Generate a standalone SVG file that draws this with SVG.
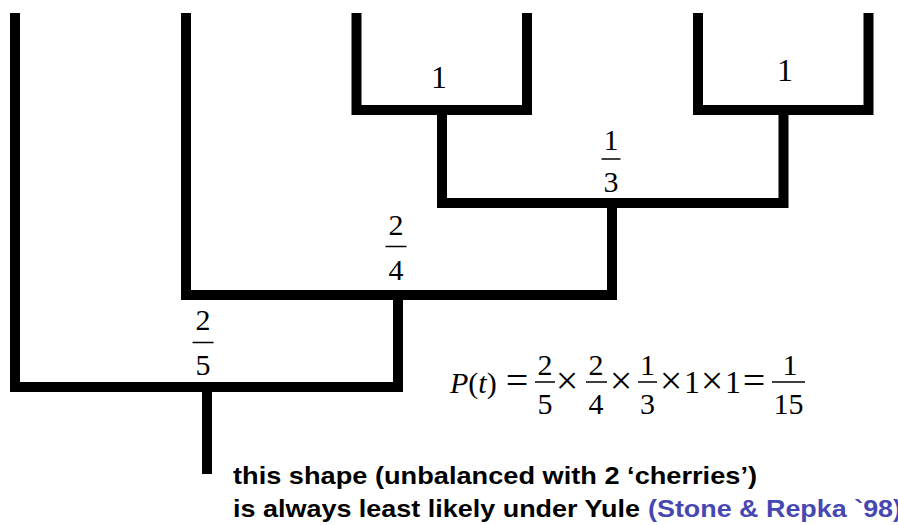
<svg xmlns="http://www.w3.org/2000/svg" width="898" height="525" viewBox="0 0 898 525">
<style>
.br{fill:none;stroke:#000;stroke-width:10;stroke-linecap:butt;stroke-linejoin:miter}
.bar{stroke:#000;stroke-width:1.5}
.num{font-family:"Liberation Serif","Times New Roman",serif;font-size:30px;fill:#000;text-anchor:middle}
.big{font-size:32px}
.eq{font-family:"Liberation Serif","Times New Roman",serif;font-size:30px;fill:#000}
.op{font-family:"Liberation Serif","Times New Roman",serif;font-size:40px;fill:#000;text-anchor:middle}
.cap{font-family:"Liberation Sans",Arial,sans-serif;font-size:24px;font-weight:bold;fill:#000}
.ref{fill:#4747B3}
</style>
<rect width="898" height="525" fill="#fff"/>
<g id="connectors">
<path class="br" d="M356.5,13 V110 H527 V13"/>
<path class="br" d="M698,13 V110 H868.5 V13"/>
<path class="br" d="M442,110 V203 H783.5 V110"/>
<path class="br" d="M186,13 V295 H612 V203"/>
<path class="br" d="M15,13 V387 H398 V295"/>
<path class="br" d="M207,387 V474"/>
</g>
<g id="label-cherry-left"><text class="num big" x="439" y="88">1</text></g>
<g id="label-cherry-right"><text class="num big" x="785" y="81">1</text></g>
<g id="label-one-third">
<text class="num" x="611" y="150">1</text>
<line class="bar" x1="601.5" y1="159" x2="620.5" y2="159"/>
<text class="num" x="611" y="192">3</text>
</g>
<g id="label-two-fourths">
<text class="num" x="396" y="235">2</text>
<line class="bar" x1="385.5" y1="246.5" x2="406.5" y2="246.5"/>
<text class="num" x="396" y="280">4</text>
</g>
<g id="label-two-fifths">
<text class="num" x="203" y="330">2</text>
<line class="bar" x1="192.5" y1="342.5" x2="213.5" y2="342.5"/>
<text class="num" x="203" y="375">5</text>
</g>
<g id="equation">
<text class="eq" x="450" y="393"><tspan font-style="italic">P</tspan>(<tspan font-style="italic">t</tspan>)</text>
<text class="op" x="517" y="394">=</text>
<text class="num" x="545" y="375">2</text>
<line class="bar" x1="535" y1="382" x2="555" y2="382"/>
<text class="num" x="545" y="414">5</text>
<text class="op" x="567" y="394">×</text>
<text class="num" x="596" y="375">2</text>
<line class="bar" x1="586" y1="382" x2="607" y2="382"/>
<text class="num" x="596" y="414">4</text>
<text class="op" x="621" y="394">×</text>
<text class="num" x="647.5" y="375">1</text>
<line class="bar" x1="638" y1="382" x2="657" y2="382"/>
<text class="num" x="647.5" y="414">3</text>
<text class="op" x="671" y="394">×</text>
<text class="num big" x="692" y="393">1</text>
<text class="op" x="712" y="394">×</text>
<text class="num big" x="733" y="393">1</text>
<text class="op" x="754" y="394">=</text>
<text class="num" x="790" y="375">1</text>
<line class="bar" x1="772" y1="382" x2="805" y2="382"/>
<text class="num" x="788.5" y="414">15</text>
</g>
<g id="caption">
<text class="cap" x="233" y="484" textLength="524" lengthAdjust="spacingAndGlyphs">this shape (unbalanced with 2 ‘cherries’)</text>
<text class="cap" x="233" y="517" textLength="407" lengthAdjust="spacingAndGlyphs">is always least likely under Yule</text>
<text class="cap ref" x="648" y="517" textLength="254" lengthAdjust="spacingAndGlyphs">(Stone &amp; Repka `98)</text>
</g>
</svg>
